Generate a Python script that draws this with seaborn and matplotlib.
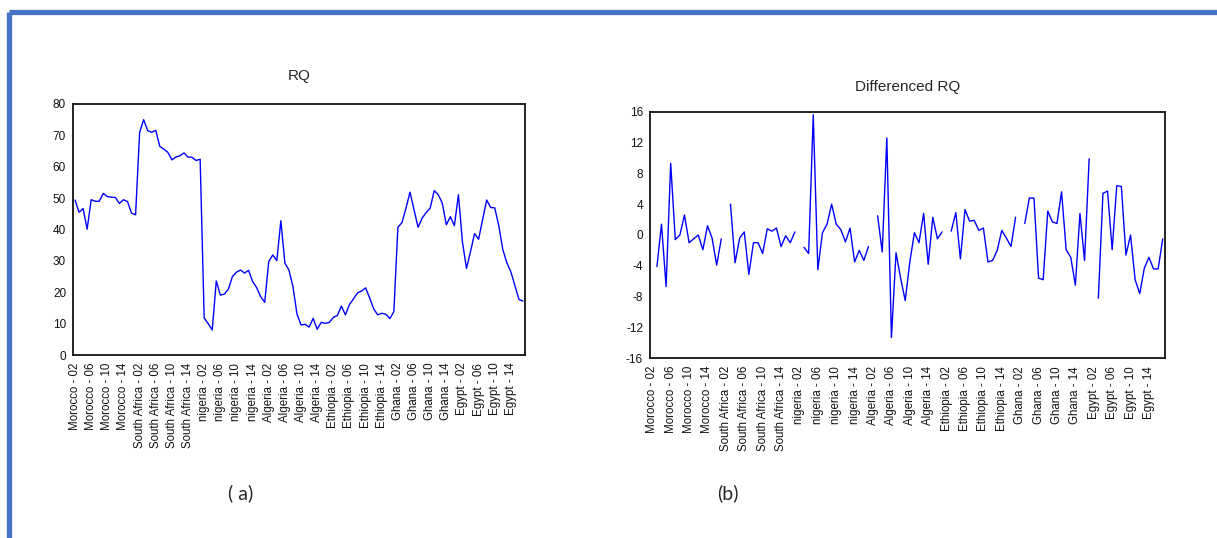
import numpy as np
import pandas as pd
import matplotlib
matplotlib.use("Agg")
import matplotlib.pyplot as plt
import seaborn as sns

# countries and years (2002-2017) of the panel
countries = ["Morocco", "South Africa", "nigeria", "Algeria", "Ethiopia", "Ghana", "Egypt"]
years = ["02", "03", "04", "05", "06", "07", "08", "09", "10", "11", "12", "13", "14", "15", "16", "17"]

# RQ levels
rq_morocco = [49.4, 45.5, 46.7, 40.1, 49.5, 49.0, 49.0, 51.5, 50.5, 50.3, 50.2, 48.3, 49.5, 48.9, 45.2, 44.7]
rq_south_africa = [70.9, 75.0, 71.5, 71.0, 71.6, 66.5, 65.6, 64.6, 62.2, 63.1, 63.5, 64.4, 63.1, 63.0, 62.0, 62.4]
rq_nigeria = [11.8, 10.0, 8.0, 23.6, 19.1, 19.4, 21.0, 25.0, 26.4, 27.1, 26.1, 27.0, 23.4, 21.5, 18.6, 16.8]
rq_algeria = [29.8, 31.9, 30.1, 42.8, 29.3, 27.1, 21.8, 13.0, 9.6, 9.8, 8.9, 11.7, 8.2, 10.4, 10.1, 10.4]
rq_ethiopia = [12.0, 12.6, 15.6, 12.8, 16.1, 17.9, 19.8, 20.4, 21.4, 18.2, 14.7, 12.8, 13.3, 13.0, 11.6, 13.8]
rq_ghana = [40.7, 42.2, 46.8, 51.9, 46.3, 40.7, 43.6, 45.4, 46.8, 52.4, 51.1, 48.4, 41.5, 44.1, 41.2, 51.1]
rq_egypt = [36.0, 27.6, 33.0, 38.7, 36.9, 43.2, 49.4, 47.0, 46.9, 41.2, 33.6, 29.4, 26.5, 22.1, 17.7, 17.2]

# first differences; first year of each country is missing
d_morocco = [np.nan, -4.1, 1.4, -6.7, 9.3, -0.6, 0.0, 2.6, -1.0, -0.5, 0.0, -1.9, 1.2, -0.4, -3.9, -0.5]
d_south_africa = [np.nan, 4.0, -3.6, -0.4, 0.4, -5.1, -1.0, -1.0, -2.4, 0.8, 0.5, 0.9, -1.5, -0.1, -1.0, 0.4]
d_nigeria = [np.nan, -1.6, -2.4, 15.6, -4.5, 0.3, 1.4, 4.0, 1.4, 0.7, -0.9, 0.9, -3.5, -2.0, -3.3, -1.5]
d_algeria = [np.nan, 2.5, -2.2, 12.6, -13.3, -2.3, -5.6, -8.5, -3.5, 0.3, -1.0, 2.8, -3.8, 2.3, -0.5, 0.4]
d_ethiopia = [np.nan, 0.5, 2.9, -3.1, 3.3, 1.8, 1.9, 0.6, 0.9, -3.5, -3.3, -2.0, 0.6, -0.4, -1.5, 2.3]
d_ghana = [np.nan, 1.5, 4.8, 4.8, -5.6, -5.8, 3.1, 1.7, 1.5, 5.6, -1.9, -2.9, -6.5, 2.8, -3.3, 9.9]
d_egypt = [np.nan, -8.2, 5.4, 5.7, -1.9, 6.4, 6.3, -2.6, 0.0, -5.8, -7.6, -4.3, -2.9, -4.4, -4.4, -0.5]

rq_all = [rq_morocco, rq_south_africa, rq_nigeria, rq_algeria, rq_ethiopia, rq_ghana, rq_egypt]
d_all = [d_morocco, d_south_africa, d_nigeria, d_algeria, d_ethiopia, d_ghana, d_egypt]

rows = []
for c, rq, d in zip(countries, rq_all, d_all):
    for y, v, dv in zip(years, rq, d):
        rows.append({"country": c, "year": y, "rq": v, "drq": dv})
df = pd.DataFrame(rows)
df["obs"] = np.arange(len(df))
df["label"] = df["country"] + " - " + df["year"]

sns.set_style("white")
plt.rcParams["font.family"] = ["Liberation Sans", "DejaVu Sans"]
plt.rcParams["axes.unicode_minus"] = False

fig = plt.figure(figsize=(12.17, 5.38), dpi=100)

# blue frame (top and left)
fig.add_artist(plt.Line2D([0.0074, 1.0], [0.9777, 0.9777], color="#4472C4", lw=3.8, solid_capstyle="butt"))
fig.add_artist(plt.Line2D([0.0074, 0.0074], [0.0, 0.9777], color="#4472C4", lw=3.8, solid_capstyle="butt"))

ax1 = fig.add_axes([0.0600, 0.3401, 0.3714, 0.4666])
ax2 = fig.add_axes([0.5341, 0.3340, 0.4232, 0.4584])

sns.lineplot(data=df, x="obs", y="rq", ax=ax1, color="#0000FF", lw=1.0, estimator=None)
sns.lineplot(data=df, x="obs", y="drq", units="country", estimator=None, ax=ax2,
             color="#0000FF", lw=1.0)

tick_pos = df["obs"].values
tick_lab = [lab if i % 4 == 0 else "" for i, lab in enumerate(df["label"])]

for ax, ylim, yt in [(ax1, (0, 80), np.arange(0, 81, 10)), (ax2, (-16, 16), np.arange(-16, 17, 4))]:
    ax.set_xlim(-0.5, len(df) - 0.5)
    ax.set_ylim(*ylim)
    ax.set_yticks(yt)
    ax.set_xticks(tick_pos)
    ax.set_xticklabels(tick_lab, rotation=90, fontsize=8.3)
    ax.tick_params(axis="x", direction="out", length=3.5, width=0.9, pad=2, colors="#111111")
    ax.tick_params(axis="y", direction="out", length=3, width=0.9, pad=2, labelsize=8.5, colors="#111111")
    ax.set_xlabel("")
    ax.set_ylabel("")
    for s in ax.spines.values():
        s.set_visible(True)
        s.set_color("#111111")
        s.set_linewidth(1.3)

ax1.set_title("RQ", fontsize=11, pad=17)
ax2.set_title("Differenced RQ", fontsize=11, pad=15)

fig.text(241 / 1217, 1 - 493 / 538, "( a)", fontsize=14, family=["Lato", "DejaVu Sans"], ha="center", va="center")
fig.text(728 / 1217, 1 - 493 / 538, "(b)", fontsize=14, family=["Lato", "DejaVu Sans"], ha="center", va="center")

fig.savefig("out.png", dpi=100)
